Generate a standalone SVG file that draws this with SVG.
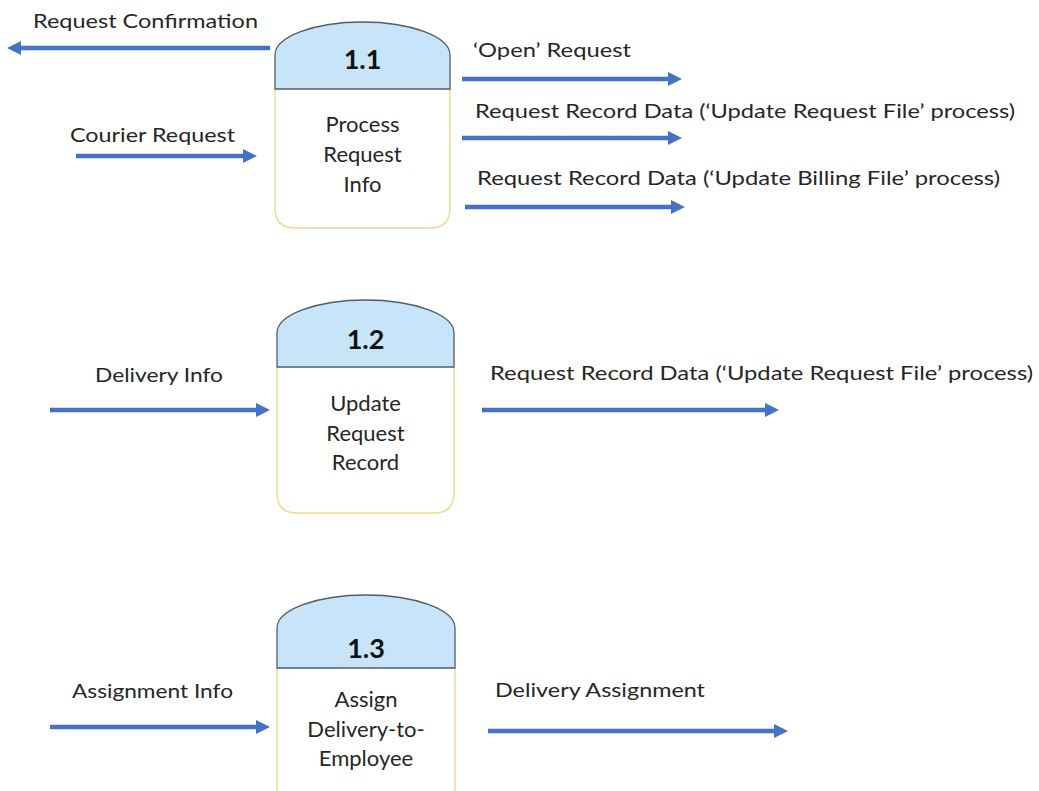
<svg xmlns="http://www.w3.org/2000/svg" width="1039" height="791" viewBox="0 0 1039 791">
  <style>
    .lbl { font-family: Lato, "Liberation Sans", sans-serif; font-size: 20px; fill: #262626; }
    .node { font-family: Lato, "Liberation Sans", sans-serif; font-size: 22px; fill: #262626; text-anchor: middle; }
    .num { font-family: Lato, "Liberation Sans", sans-serif; font-size: 27px; font-weight: bold; fill: #111; text-anchor: middle; }
    .head { fill: #c8e4f8; stroke: #4f5d6b; stroke-width: 1.3; }
    .body { fill: #ffffff; stroke: #f1d98f; stroke-width: 1.5; }
    .flow { stroke: #4472c4; stroke-width: 4.5; fill: none; marker-end: url(#arrow); }
  </style>
  <defs>
    <marker id="arrow" viewBox="0 0 14 14" markerWidth="14" markerHeight="14" refX="4" refY="7" orient="auto" markerUnits="userSpaceOnUse">
      <path d="M0,0 L14,7 L0,14 Z" fill="#4472c4"/>
    </marker>
  </defs>
  <rect width="1039" height="791" fill="#ffffff"/>

  <!-- Process 1.1 -->
  <g id="p1-1">
    <path class="body" d="M275,89 V208 Q275,228 295,228 H430 Q450,228 450,208 V89"/>
    <path class="head" d="M275,89 V55 A87.5,33 0 0 1 450,55 V89 Z"/>
    <text class="num" x="362.5" y="69">1.1</text>
    <text class="node" x="362.5" y="132">Process</text>
    <text class="node" x="362.5" y="162">Request</text>
    <text class="node" x="362.5" y="192">Info</text>
  </g>

  <!-- Process 1.2 -->
  <g id="p1-2">
    <path class="body" d="M277,367 V493 Q277,513 297,513 H434 Q454,513 454,493 V367"/>
    <path class="head" d="M277,367 V333 A88.5,33 0 0 1 454,333 V367 Z"/>
    <text class="num" x="365.5" y="349">1.2</text>
    <text class="node" x="365.5" y="411">Update</text>
    <text class="node" x="365.5" y="441">Request</text>
    <text class="node" x="365.5" y="470">Record</text>
  </g>

  <!-- Process 1.3 -->
  <g id="p1-3">
    <path class="body" d="M277,668 V800 H455 V668"/>
    <path class="head" d="M277,668 V628 A89,33 0 0 1 455,628 V668 Z"/>
    <text class="num" x="366" y="658">1.3</text>
    <text class="node" x="366" y="707">Assign</text>
    <text class="node" x="366" y="737">Delivery-to-</text>
    <text class="node" x="366" y="766">Employee</text>
  </g>

  <!-- Data flows -->
  <g id="flows">
    <line class="flow" x1="270" y1="48" x2="17" y2="48"/>
    <line class="flow" x1="76" y1="156" x2="247" y2="156"/>
    <line class="flow" x1="462" y1="79" x2="672" y2="79"/>
    <line class="flow" x1="462" y1="138" x2="672" y2="138"/>
    <line class="flow" x1="465" y1="207" x2="675" y2="207"/>
    <line class="flow" x1="50" y1="410" x2="260" y2="410"/>
    <line class="flow" x1="482" y1="410" x2="769" y2="410"/>
    <line class="flow" x1="50" y1="727" x2="260" y2="727"/>
    <line class="flow" x1="488" y1="731" x2="778" y2="731"/>
  </g>

  <!-- Flow labels -->
  <g id="flow-labels">
    <text class="lbl" x="33" y="28" textLength="225" lengthAdjust="spacingAndGlyphs">Request Confirmation</text>
    <text class="lbl" x="70" y="142" textLength="165" lengthAdjust="spacingAndGlyphs">Courier Request</text>
    <text class="lbl" x="473" y="57" textLength="158" lengthAdjust="spacingAndGlyphs">‘Open’ Request</text>
    <text class="lbl" x="475" y="118" textLength="540" lengthAdjust="spacingAndGlyphs">Request Record Data (‘Update Request File’ process)</text>
    <text class="lbl" x="477" y="185" textLength="523" lengthAdjust="spacingAndGlyphs">Request Record Data (‘Update Billing File’ process)</text>
    <text class="lbl" x="95" y="382" textLength="128" lengthAdjust="spacingAndGlyphs">Delivery Info</text>
    <text class="lbl" x="490" y="380" textLength="543" lengthAdjust="spacingAndGlyphs">Request Record Data (‘Update Request File’ process)</text>
    <text class="lbl" x="72" y="698" textLength="161" lengthAdjust="spacingAndGlyphs">Assignment Info</text>
    <text class="lbl" x="495" y="697" textLength="210" lengthAdjust="spacingAndGlyphs">Delivery Assignment</text>
  </g>
</svg>
